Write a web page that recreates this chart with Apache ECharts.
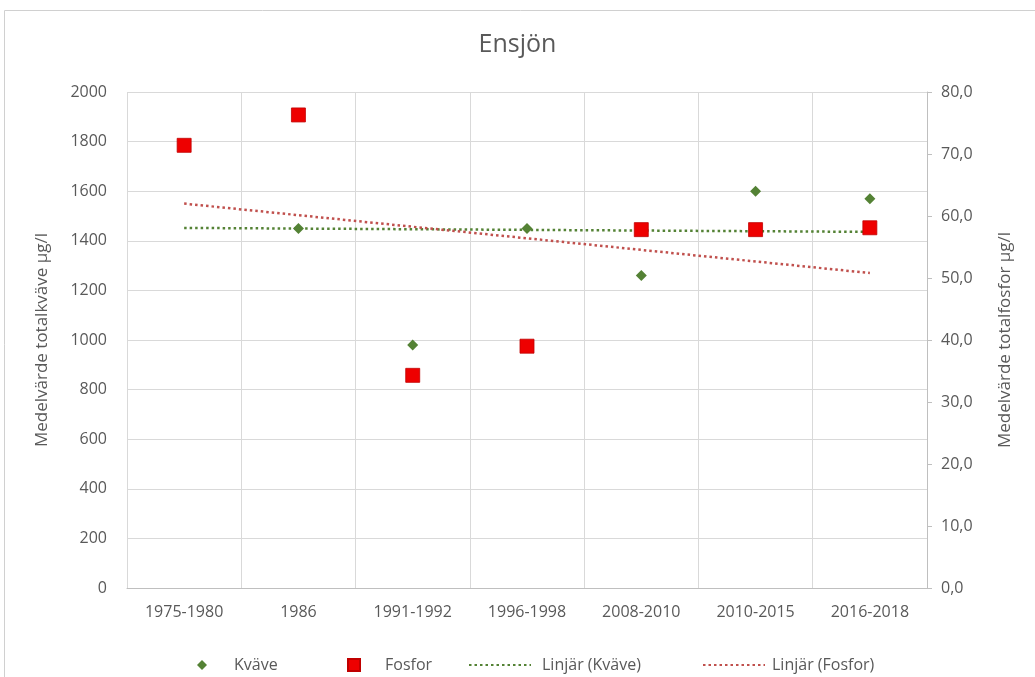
<!DOCTYPE html>
<html><head><meta charset="utf-8">
<script src="https://cdn.jsdelivr.net/npm/echarts@6/dist/echarts.min.js"></script>
<style>html,body{margin:0;padding:0;background:#fff}#c{width:1035px;height:677px}</style>
</head><body><div id="c"></div>
<script>
const categories = ['1975-1980','1986','1991-1992','1996-1998','2008-2010','2010-2015','2016-2018'];
const kvave = [1780, 1450, 980, 1450, 1260, 1600, 1570];
const fosfor = [71.4, 76.3, 34.3, 39.0, 57.8, 57.8, 58.1];
const kvaveTrendEnds = [1452, 1436];
const fosforTrendEnds = [62.0, 50.8];
const leftTicks = {min: 0, max: 2000, interval: 200};
const rightTicks = {min: 0, max: 80, interval: 10};

const gray = '#595959';
const font = 'Open Sans';
const chart = echarts.init(document.getElementById('c'));
const lastCat = categories[categories.length - 1];
chart.setOption({
  animation: false,
  textStyle: {fontFamily: font},
  title: {text: 'Ensjön', left: 'center', top: 27, textStyle: {fontFamily: font, fontSize: 25, fontWeight: 'normal', color: gray}},
  graphic: [{type: 'rect', shape: {x: 4.5, y: 10.5, width: 1100, height: 800}, style: {fill: 'none', stroke: '#d0d0d0', lineWidth: 1}, silent: true, z: -10}],
  grid: {left: 127, right: 108, top: 92, bottom: 89},
  legend: [
    {data: [{name: 'Kväve', icon: 'diamond'}], left: 192, top: 652, itemWidth: 10, itemHeight: 10, textStyle: {color: gray, fontSize: 16, fontFamily: font, padding: [0,0,0,22]}},
    {data: [{name: 'Fosfor', icon: 'rect'}], left: 342, top: 652, itemWidth: 12, itemHeight: 12, textStyle: {color: gray, fontSize: 16, fontFamily: font, padding: [0,0,0,20]}},
    {data: [{name: 'Linjär (Kväve)', itemStyle: {opacity: 0}}], left: 463, top: 652, itemWidth: 62, itemHeight: 14, textStyle: {color: gray, fontSize: 16, fontFamily: font, padding: [0,0,0,6]}},
    {data: [{name: 'Linjär (Fosfor)', itemStyle: {opacity: 0}}], left: 697, top: 652, itemWidth: 62, itemHeight: 14, textStyle: {color: gray, fontSize: 16, fontFamily: font, padding: [0,0,0,2]}}
  ],
  xAxis: {
    type: 'category', data: categories, boundaryGap: true,
    axisLine: {show: true, lineStyle: {color: '#bfbfbf'}},
    axisTick: {show: false},
    splitLine: {show: true, lineStyle: {color: '#d9d9d9'}},
    axisLabel: {color: gray, fontSize: 16, fontFamily: font, margin: 16, interval: 0}
  },
  yAxis: [
    {type: 'value', min: leftTicks.min, max: leftTicks.max, interval: leftTicks.interval,
     name: 'Medelvärde totalkväve µg/l', nameLocation: 'middle', nameGap: 76,
     nameTextStyle: {color: gray, fontSize: 17, fontFamily: font},
     axisLine: {show: false}, axisTick: {show: false},
     splitLine: {show: true, lineStyle: {color: '#d9d9d9'}},
     axisLabel: {color: gray, fontSize: 16, fontFamily: font, margin: 20, formatter: v => String(v)}},
    {type: 'value', min: rightTicks.min, max: rightTicks.max, interval: rightTicks.interval, position: 'right',
     name: 'Medelvärde totalfosfor µg/l', nameLocation: 'middle', nameGap: 70, nameRotate: 90,
     nameTextStyle: {color: gray, fontSize: 17, fontFamily: font},
     axisLine: {show: true, lineStyle: {color: '#bfbfbf'}},
     axisTick: {show: true, length: 5, lineStyle: {color: '#bfbfbf'}},
     splitLine: {show: false},
     axisLabel: {color: gray, fontSize: 16, fontFamily: font, margin: 14, formatter: v => v.toFixed(1).replace('.', ',')}}
  ],
  series: [
    {name: 'Linjär (Kväve)', type: 'line', yAxisIndex: 0, z: 2, symbol: 'none',
     data: [[categories[0], kvaveTrendEnds[0]], [lastCat, kvaveTrendEnds[1]]],
     itemStyle: {color: '#548235'}, lineStyle: {color: '#548235', width: 2.5, type: [2.5, 3]}},
    {name: 'Linjär (Fosfor)', type: 'line', yAxisIndex: 1, z: 2, symbol: 'none',
     data: [[categories[0], fosforTrendEnds[0]], [lastCat, fosforTrendEnds[1]]],
     itemStyle: {color: '#c0504d'}, lineStyle: {color: '#c0504d', width: 2.5, type: [2.5, 3]}},
    {name: 'Kväve', type: 'scatter', yAxisIndex: 0, z: 3, symbol: 'diamond', symbolSize: 11,
     data: kvave, itemStyle: {color: '#548235', opacity: 1}},
    {name: 'Fosfor', type: 'scatter', yAxisIndex: 1, z: 4, symbol: 'rect', symbolSize: 14,
     data: fosfor, itemStyle: {color: '#ee0000', opacity: 1, borderColor: '#c00000', borderWidth: 0.8}}
  ]
});
</script></body></html>
